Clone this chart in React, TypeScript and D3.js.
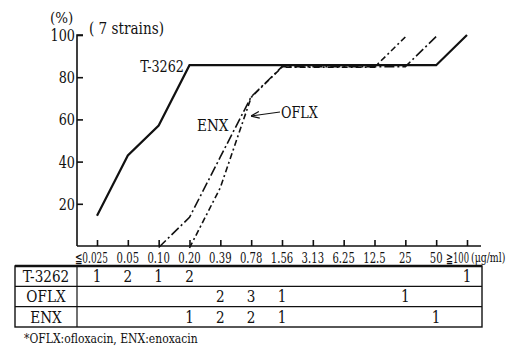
import React, { useEffect, useRef } from "react";
import * as d3 from "d3";

const categories = ["≦0.025", "0.05", "0.10", "0.20", "0.39", "0.78", "1.56", "3.13", "6.25", "12.5", "25", "50", "≧100"];

// cumulative % of strains inhibited (null = not drawn)
const t3262Pct = [14.3, 42.9, 57.1, 85.7, 85.7, 85.7, 85.7, 85.7, 85.7, 85.7, 85.7, 85.7, 100];
const oflxPct = [null, null, null, 0, 28.6, 71.4, 85.7, 85.7, 85.7, 85.7, 100, null, null];
const enxPct = [null, null, 0, 14.3, 42.9, 71.4, 85.7, 85.7, 85.7, 85.7, 85.7, 100, null];

// number of strains per MIC
const t3262Count = [1, 2, 1, 2, null, null, null, null, null, null, null, null, 1];
const oflxCount = [null, null, null, null, 2, 3, 1, null, null, null, 1, null, null];
const enxCount = [null, null, null, 1, 2, 2, 1, null, null, null, null, 1, null];

const yTicks = [20, 40, 60, 80, 100];

const serif = "DejaVu Serif, Liberation Serif, Times New Roman, serif";

export default function App() {
  const ref = useRef<SVGSVGElement>(null);

  useEffect(() => {
    const svg = d3.select(ref.current);
    svg.selectAll("*").remove();

    const x = d3.scalePoint<string>().domain(categories).range([97, 467]);
    const y = d3.scaleLinear().domain([0, 100]).range([246, 35]);

    const g = svg.append("g");

    // squeezed text, like the condensed print of the original
    const txt = (xx: number, yy: number, t: string | number, size = 15, anchor = "start", sx = 0.85) =>
      g.append("text")
        .attr("x", xx).attr("y", yy).attr("text-anchor", anchor)
        .attr("font-family", serif).attr("font-size", size).attr("fill", "#111")
        .attr("transform", `translate(${xx},0) scale(${sx},1) translate(${-xx},0)`)
        .text(t);

    // axes
    g.append("g")
      .attr("transform", "translate(77,0)")
      .call(d3.axisRight(y).tickValues(yTicks).tickSize(6).tickFormat(() => ""))
      .call(s => s.select(".domain").attr("d", "M6,35H0V246"))
      .call(s => s.selectAll("line,path").attr("stroke", "#111").attr("stroke-width", 1.6));

    yTicks.forEach(t => txt(75, y(t) + 6, t, 16, "end", 0.8));

    g.append("g")
      .attr("transform", "translate(0,246)")
      .call(d3.axisTop(x).tickSize(6).tickFormat(() => ""))
      .call(s => s.select(".domain").attr("d", "M77,0H481"))
      .call(s => s.selectAll("line,path").attr("stroke", "#111").attr("stroke-width", 1.6));

    categories.forEach((c, i) => {
      if (i === 0) txt(x(c)! + 11, 263, c, 14, "end", 0.64);
      else if (i === categories.length - 1) txt(x(c)! + 2, 263, c, 14, "end", 0.6);
      else txt(x(c)!, 263, c, 14, "middle", 0.72);
    });
    txt(471, 262, "(μg/ml)", 12, "start", 0.78);

    // lines
    const line = d3.line<[string, number | null]>()
      .defined(d => d[1] !== null)
      .x(d => x(d[0])!)
      .y(d => y(d[1] as number));

    const series = [
      { v: t3262Pct, dash: null, dy: 0, w: 2.2 },
      { v: oflxPct, dash: "6,3,2,3", dy: 2, w: 1.6 },
      { v: enxPct, dash: "10,3,2,3", dy: 1.5, w: 1.6 },
    ];
    series.forEach(s => {
      g.append("path")
        .datum(categories.map((c, i) => [c, s.v[i]] as [string, number | null]))
        .attr("d", line)
        .attr("fill", "none")
        .attr("stroke", "#111")
        .attr("stroke-width", s.w)
        .attr("stroke-dasharray", s.dash)
        .attr("transform", `translate(0,${s.dy})`);
    });

    // annotations
    txt(50, 23, "(%)", 15, "start", 0.9);
    txt(89, 34, "( 7  strains)", 16, "start", 0.85);
    txt(184, 72, "T-3262", 16, "end", 0.8);
    txt(197, 131, "ENX", 16, "start", 0.85);
    txt(281, 118, "OFLX", 16, "start", 0.8);

    svg.append("defs").append("marker")
      .attr("id", "arr").attr("viewBox", "0 0 10 10").attr("refX", 10).attr("refY", 5)
      .attr("markerWidth", 7).attr("markerHeight", 7).attr("orient", "auto")
      .append("path").attr("d", "M0,1L10,5L0,9").attr("fill", "none").attr("stroke", "#111").attr("stroke-width", 1.5);
    g.append("line")
      .attr("x1", 280).attr("y1", 112).attr("x2", 251).attr("y2", 116)
      .attr("stroke", "#111").attr("stroke-width", 1.2).attr("marker-end", "url(#arr)");

    // table
    const rows = [
      { name: "T-3262", v: t3262Count },
      { name: "OFLX", v: oflxCount },
      { name: "ENX", v: enxCount },
    ];
    const rowY = d3.scaleBand<string>().domain(rows.map(r => r.name)).range([266, 327]);
    const tb = g.append("g");
    tb.append("rect")
      .attr("x", 15).attr("y", 266).attr("width", 467).attr("height", 61)
      .attr("fill", "none").attr("stroke", "#111").attr("stroke-width", 1.4);
    tb.append("line").attr("x1", 15).attr("x2", 482).attr("y1", 266).attr("y2", 266)
      .attr("stroke", "#111").attr("stroke-width", 2.6);
    tb.append("line").attr("x1", 77).attr("x2", 77).attr("y1", 266).attr("y2", 327)
      .attr("stroke", "#111").attr("stroke-width", 1.2);
    rows.slice(1).forEach(r => {
      tb.append("line").attr("x1", 15).attr("x2", 482)
        .attr("y1", rowY(r.name)!).attr("y2", rowY(r.name)!)
        .attr("stroke", "#111").attr("stroke-width", 1.2);
    });
    rows.forEach(r => {
      const cy = rowY(r.name)! + rowY.bandwidth() / 2 + 6;
      txt(46, cy, r.name, 16, "middle", 0.85);
      r.v.forEach((n, i) => {
        if (n === null) return;
        txt(x(categories[i])!, cy, n, 16, "middle", 0.85);
      });
    });

    txt(24, 343, "*OFLX:ofloxacin, ENX:enoxacin", 12, "start", 0.9);
  }, []);

  return (
    <svg ref={ref} width={511} height={350}
      style={{ position: "absolute", left: 0, top: 0, background: "#fff" }} />
  );
}
